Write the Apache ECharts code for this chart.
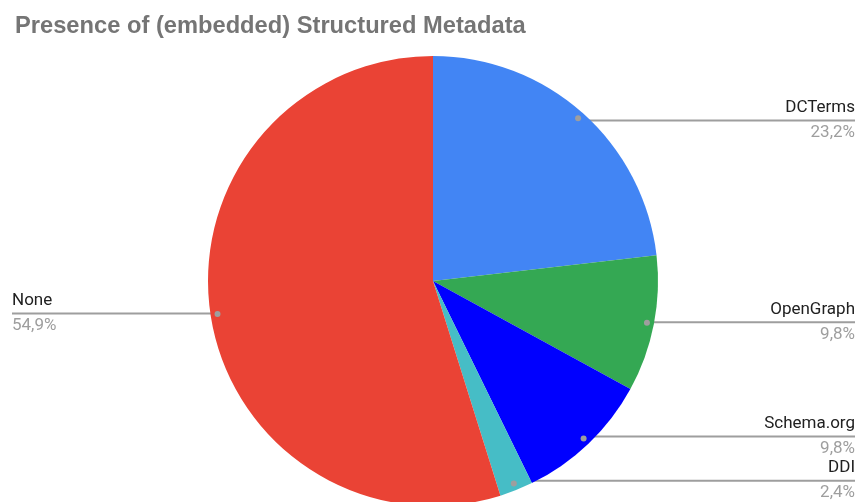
<!DOCTYPE html>
<html>
<head>
<meta charset="utf-8">
<script src="https://cdn.jsdelivr.net/npm/echarts@6/dist/echarts.min.js"></script>
<style>
html, body { margin: 0; padding: 0; background: #fff; }
#chart { width: 858px; height: 502px; }
</style>
</head>
<body>
<div id="chart"></div>
<script>
// data
const categories = ['DCTerms', 'OpenGraph', 'Schema.org', 'DDI', 'None']
const values = [23.2, 9.8, 9.8, 2.4, 54.9]
const colors = ['#4285f4', '#34a853', '#0000ff', '#46bdc6', '#ea4335']

const CX = 433, CY = 281, R = 225, DOT_R = 215
const LEFT_EDGE = 12, RIGHT_EDGE = 855

const pieData = categories.map((name, i) => ({
    name: name,
    value: values[i],
    itemStyle: { color: colors[i] }
}))

let myChart = echarts.init(document.getElementById('chart'))

let option = {
    animation: false,
    title: {
        text: 'Presence of (embedded) Structured Metadata',
        left: 10,
        top: 9,
        textStyle: {
            fontFamily: 'Liberation Sans',
            fontSize: 23.7,
            fontWeight: 'bold',
            color: '#757575'
        }
    },
    series: [
        {
            type: 'pie',
            center: [CX, CY],
            radius: [0, R],
            startAngle: 90,
            clockwise: true,
            avoidLabelOverlap: false,
            data: pieData,
            itemStyle: { borderWidth: 0 },
            label: {
                show: true,
                position: 'outside',
                formatter: function (p) {
                    return '{n|' + p.name + '}\n{p|' + p.value.toFixed(1).replace('.', ',') + '%}'
                },
                rich: {
                    n: { fontFamily: 'Roboto', fontSize: 17, color: '#212121', lineHeight: 25 },
                    p: { fontFamily: 'Roboto', fontSize: 17, color: '#9e9e9e', lineHeight: 25 }
                }
            },
            labelLine: {
                show: true,
                lineStyle: { color: '#9e9e9e', width: 2 }
            },
            // move the line start inside the slice, run it flat to the chart edge
            labelLayout: function (params) {
                let p0 = params.labelLinePoints[0]
                let dx = p0[0] - CX, dy = p0[1] - CY
                let len = Math.sqrt(dx * dx + dy * dy) || 1
                let x = CX + dx / len * DOT_R
                let y = CY + dy / len * DOT_R
                let right = x > CX
                let edge = right ? RIGHT_EDGE : LEFT_EDGE
                return {
                    x: edge,
                    y: y,
                    align: right ? 'right' : 'left',
                    verticalAlign: 'middle',
                    labelLinePoints: [[x, y], [x, y], [edge, y]]
                }
            }
        },
        {
            // little dots where the label lines start
            type: 'pie',
            center: [CX, CY],
            radius: [DOT_R - 1, DOT_R + 1],
            startAngle: 90,
            clockwise: true,
            silent: true,
            avoidLabelOverlap: false,
            data: categories.map((name, i) => ({ name: name, value: values[i] })),
            itemStyle: { color: 'rgba(0,0,0,0)', borderWidth: 0 },
            label: {
                show: true,
                position: 'inside',
                rotate: 0,
                formatter: ' ',
                width: 6,
                height: 6,
                padding: 0,
                borderRadius: 3,
                backgroundColor: '#9e9e9e'
            },
            labelLine: { show: false },
            emphasis: { disabled: true }
        }
    ]
}

myChart.setOption(option)
</script>
</body>
</html>
